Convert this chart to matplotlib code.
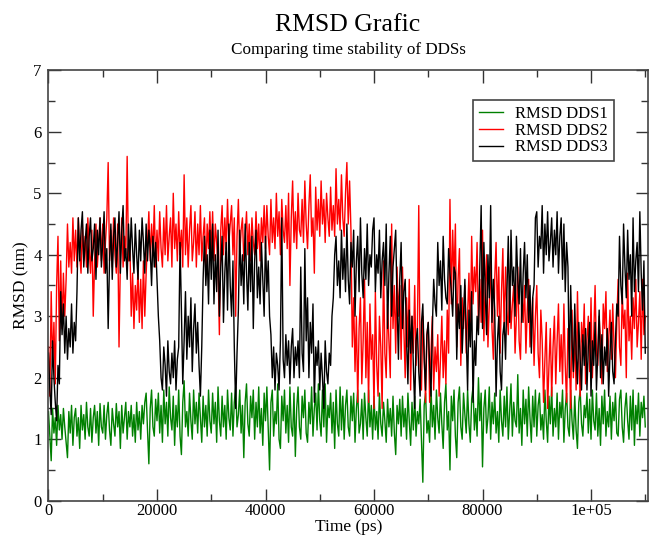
import numpy as np
import matplotlib.pyplot as plt

# time axis: one read-off value every 250 ps
time_ps = np.arange(0, 110001, 250)

# RMSD values (nm), 20 values per 5000 ps
dds1 = [
    1.45, 1.05, 0.65, 1.5, 1.1, 1.35, 0.9, 1.55, 1.15, 1.4, 1.0, 1.5, 1.2, 0.95, 0.7, 1.45, 1.1, 1.55, 0.9, 1.35,
    1.5, 1.05, 1.35, 0.85, 1.55, 1.15, 1.4, 1.0, 1.6, 1.2, 1.05, 1.5, 0.95, 1.35, 1.55, 1.1, 1.45, 0.9, 1.58, 1.2,
    1.1, 1.55, 1.0, 1.4, 1.6, 1.15, 0.9, 1.5, 1.25, 1.05, 1.58, 1.2, 1.45, 0.85, 1.55, 1.1, 1.35, 1.6, 1.0, 1.45,
    1.2, 1.55, 1.05, 1.4, 0.95, 1.6, 1.15, 1.45, 1.0, 1.55, 1.25, 1.6, 1.75, 1.15, 0.6, 1.5, 1.8, 1.2, 1.05, 1.65,
    1.3, 1.75, 1.1, 1.55, 0.95, 1.8, 1.25, 1.6, 1.05, 1.85, 1.35, 1.15, 1.7, 0.9, 1.55, 1.2, 1.8, 1.05, 0.75, 1.6,
    1.95, 1.2, 1.45, 1.05, 1.75, 1.3, 1.0, 1.8, 1.25, 1.6, 1.1, 1.75, 1.35, 0.95, 1.7, 1.2, 1.55, 1.05, 1.8, 1.3,
    1.1, 1.75, 1.25, 1.6, 0.95, 1.85, 1.3, 1.05, 1.7, 1.2, 1.55, 1.0, 1.8, 1.35, 1.15, 1.75, 1.05, 1.6, 1.85, 1.2,
    1.4, 1.8, 1.1, 1.55, 0.7, 1.6, 1.9, 1.25, 1.05, 1.7, 1.35, 1.8, 1.0, 1.6, 1.2, 1.85, 1.1, 1.5, 0.9, 1.75,
    1.3, 1.85, 1.15, 0.5, 1.6, 1.8, 1.05, 1.45, 1.25, 1.9, 1.0, 0.85, 1.7, 1.3, 1.8, 1.1, 1.55, 0.95, 1.85, 1.2,
    1.05, 1.75, 0.72, 1.5, 1.85, 1.2, 1.0, 1.7, 1.35, 1.8, 1.1, 0.95, 1.6, 1.25, 1.85, 1.05, 1.5, 1.75, 1.15, 1.9,
    1.3, 1.05, 1.8, 1.2, 1.9, 0.95, 1.55, 1.35, 1.75, 1.1, 1.6, 0.85, 1.8, 1.25, 1.05, 1.85, 1.15, 1.7, 1.0, 1.55,
    1.8, 1.2, 1.05, 1.7, 1.3, 1.75, 0.95, 1.5, 1.8, 1.1, 1.25, 1.65, 1.0, 1.75, 1.35, 1.05, 1.8, 1.2, 1.55, 1.0,
    1.7, 1.15, 1.45, 1.0, 1.75, 1.25, 1.05, 1.6, 1.3, 0.95, 1.65, 1.2, 1.5, 1.05, 1.7, 1.1, 0.75, 1.55, 1.25, 1.65,
    1.05, 1.7, 1.2, 1.5, 1.0, 1.75, 1.3, 0.9, 1.6, 1.15, 1.7, 1.05, 1.45, 1.25, 1.65, 1.0, 0.3, 1.55, 1.75, 1.1,
    1.3, 0.95, 1.85, 1.2, 1.55, 1.0, 1.8, 1.35, 1.1, 1.75, 1.25, 0.85, 1.6, 1.9, 1.15, 1.45, 0.5, 1.7, 1.3, 1.8,
    1.05, 0.7, 1.6, 1.85, 1.2, 1.0, 1.75, 1.4, 1.1, 1.8, 1.25, 0.95, 1.65, 1.85, 1.15, 1.5, 1.05, 2.0, 1.3, 1.75,
    0.55, 1.5, 1.8, 1.1, 1.35, 1.85, 1.0, 1.6, 1.25, 1.75, 1.1, 1.45, 0.95, 1.8, 1.3, 1.05, 1.7, 1.2, 1.85, 1.0,
    1.45, 1.9, 1.05, 1.6, 1.3, 1.2, 2.05, 1.1, 1.5, 0.9, 1.8, 1.25, 1.65, 1.05, 1.85, 1.35, 0.95, 1.7, 1.2, 1.8,
    1.05, 1.55, 1.75, 1.15, 1.4, 1.0, 1.8, 1.3, 0.95, 1.7, 1.25, 1.85, 1.05, 1.5, 1.2, 1.75, 1.0, 1.6, 1.35, 1.8,
    0.95, 1.5, 1.75, 1.2, 1.05, 1.8, 1.3, 1.0, 1.7, 1.15, 0.85, 1.6, 1.8, 1.25, 1.05, 1.55, 1.35, 1.75, 1.1, 1.65,
    1.0, 1.8, 1.3, 1.15, 1.75, 1.05, 1.5, 0.9, 1.7, 1.25, 1.8, 1.05, 1.45, 1.2, 1.7, 1.0, 1.6, 1.3, 1.75, 1.1,
    1.05, 1.65, 1.8, 1.2, 0.95, 1.5, 1.75, 1.3, 1.0, 1.7, 1.15, 1.8, 0.9, 1.55, 1.25, 1.75, 1.05, 1.6, 1.35, 1.7,
    1.2,
]

dds2 = [
    2.5, 1.7, 3.4, 2.2, 2.9, 1.9, 3.5, 4.3, 2.6, 3.9, 2.8, 3.7, 3.0, 3.6, 4.5, 3.8, 4.2, 3.7, 4.6, 3.9,
    4.4, 3.8, 4.6, 4.0, 3.7, 4.5, 3.9, 4.3, 3.8, 4.6, 4.1, 3.7, 4.4, 3.0, 3.9, 4.5, 3.8, 4.2, 4.6, 3.9,
    4.5, 3.7, 4.2, 4.6, 5.5, 3.9, 4.4, 3.8, 4.6, 4.0, 3.7, 4.5, 2.5, 3.9, 4.6, 3.8, 4.3, 4.0, 5.6, 3.9,
    4.2, 3.0, 3.7, 2.8, 3.5, 3.1, 3.8, 2.9, 3.6, 2.8, 3.9, 3.0, 3.7, 4.2, 4.7, 3.9, 4.5, 4.0, 4.8, 3.8,
    4.4, 3.9, 4.7, 4.1, 3.8, 4.6, 4.0, 4.8, 3.9, 4.3, 4.6, 3.8, 5.0, 4.1, 4.5, 3.9, 4.7, 4.0, 4.4, 3.8,
    5.3, 4.0, 4.6, 3.8, 4.4, 4.8, 3.9, 4.2, 4.7, 3.8, 4.5, 4.0, 4.8, 3.9, 4.3, 4.6, 3.7, 4.5, 4.1, 4.7,
    4.0, 4.7, 3.9, 4.5, 4.2, 3.8, 2.7, 4.4, 4.8, 4.0, 4.6, 4.1, 4.9, 4.2, 4.5, 4.8, 4.0, 4.6, 3.0, 4.3,
    4.9, 4.0, 4.4, 4.6, 3.9, 4.3, 4.7, 4.0, 4.5, 3.9, 4.6, 4.2, 4.0, 4.7, 4.1, 4.5, 3.9, 4.6, 4.2, 4.8,
    4.1, 4.8, 4.3, 4.0, 4.9, 4.2, 4.6, 4.1, 5.0, 4.3, 4.7, 4.0, 4.9, 4.4, 4.2, 4.8, 4.1, 5.0, 3.5, 4.6,
    5.2, 4.2, 4.7, 4.1, 5.0, 4.4, 4.3, 4.9, 4.2, 5.2, 4.5, 4.1, 4.8, 5.3, 4.3, 4.6, 3.7, 5.1, 4.4, 4.9,
    4.3, 5.2, 4.5, 4.9, 4.2, 5.0, 4.6, 4.3, 5.1, 4.4, 4.8, 4.3, 5.4, 4.5, 4.9, 4.4, 5.3, 4.6, 4.3, 5.0,
    5.5, 4.5, 5.2, 4.4, 2.5, 3.3, 2.1, 3.0, 1.6, 2.8, 3.3, 1.9, 2.6, 3.6, 2.0, 2.9, 1.6, 3.2, 2.3, 2.7,
    1.5, 3.4, 2.2, 1.7, 3.0, 2.5, 1.5, 3.9, 2.4, 2.0, 3.2, 2.6, 2.0, 4.5, 2.8, 3.5, 2.4, 3.8, 3.0, 3.5,
    2.3, 3.8, 2.8, 2.0, 3.3, 2.5, 3.6, 1.8, 3.0, 2.4, 3.5, 2.2, 2.8, 4.8, 2.2, 1.8, 3.0, 2.4, 1.6, 2.7,
    2.9, 1.6, 2.4, 3.0, 1.8, 2.5, 2.1, 2.7, 1.7, 2.3, 3.0, 2.0, 2.6, 1.9, 3.1, 2.4, 4.9, 3.2, 4.4, 3.6,
    4.5, 2.5, 3.6, 4.1, 2.2, 3.3, 2.8, 3.5, 2.4, 3.0, 3.7, 2.6, 4.3, 3.2, 3.8, 3.4, 4.2, 2.8, 3.6, 2.9,
    4.4, 2.6, 3.5, 4.0, 2.5, 3.2, 3.9, 2.8, 2.3, 3.6, 4.2, 3.0, 3.8, 2.4, 3.4, 4.1, 2.7, 3.8, 3.1, 2.7,
    3.6, 2.8, 3.2, 3.5, 2.4, 3.0, 3.8, 2.6, 2.3, 3.4, 2.9, 3.5, 2.4, 3.1, 3.6, 2.5, 2.8, 3.3, 2.2, 3.0,
    3.5, 2.4, 2.0, 3.1, 2.6, 1.6, 2.3, 2.9, 1.5, 2.2, 2.8, 1.7, 2.5, 3.0, 1.9, 2.6, 3.2, 2.1, 2.7, 1.9,
    3.2, 2.2, 1.6, 2.8, 2.4, 1.5, 3.1, 2.0, 2.7, 1.8, 3.4, 2.3, 1.7, 2.9, 2.5, 3.2, 1.9, 2.6, 3.0, 2.1,
    3.3, 2.0, 2.7, 3.5, 2.4, 2.2, 3.0, 2.6, 1.9, 3.2, 2.8, 3.4, 2.1, 2.6, 3.1, 2.3, 3.2, 2.5, 2.0, 2.9,
    3.6, 2.5, 2.2, 3.4, 2.8, 3.1, 2.0, 3.7, 2.6, 3.0, 2.3, 3.3, 2.8, 3.6, 2.5, 2.9, 3.4, 2.3, 3.6, 2.7,
    3.0,
]

dds3 = [
    2.4, 1.8, 1.4, 2.6, 2.0, 1.6, 1.3, 2.2, 1.9, 3.4, 2.7, 3.2, 2.4, 3.0, 2.3, 2.8, 2.5, 3.2, 2.4, 2.9,
    2.6, 3.4, 4.6, 3.9, 4.4, 4.7, 3.8, 4.2, 4.5, 3.7, 4.3, 4.6, 3.9, 4.1, 4.5, 3.6, 4.4, 4.0, 4.6, 3.8,
    4.2, 4.7, 3.7, 4.1, 2.8, 3.9, 4.5, 3.6, 4.3, 4.6, 3.8, 4.2, 4.7, 3.7, 4.4, 4.8, 3.9, 4.1, 3.6, 4.5,
    3.9, 4.6, 4.1, 3.7, 4.5, 4.0, 3.6, 4.4, 3.9, 4.6, 4.2, 3.7, 4.5, 3.9, 4.4, 4.1, 3.5, 4.3, 3.8, 4.2,
    3.6, 3.0, 2.6, 2.0, 1.8, 2.5, 2.2, 1.7, 2.6, 2.1, 1.9, 2.4, 2.0, 2.6, 1.8, 2.3, 2.5, 4.2, 3.1, 1.9,
    2.6, 3.4, 2.3, 3.0, 2.5, 3.3, 2.1, 2.8, 3.2, 2.4, 2.9, 2.2, 1.7, 2.5, 3.6, 4.3, 3.5, 4.0, 3.2, 4.4,
    3.6, 4.5, 3.2, 4.0, 3.4, 4.4, 3.0, 3.8, 4.3, 2.9, 3.7, 4.2, 3.1, 4.5, 3.5, 3.0, 3.9, 2.5, 1.5, 2.4,
    3.1, 4.4, 3.5, 4.0, 3.2, 4.5, 3.7, 3.1, 4.2, 3.4, 4.3, 2.8, 3.9, 4.4, 3.3, 3.8, 3.2, 4.2, 3.6, 3.0,
    4.3, 3.4, 3.9, 3.0, 2.7, 2.0, 2.5, 1.8, 2.4, 2.2, 1.8, 2.6, 4.6, 2.3, 2.0, 2.7, 2.2, 2.6, 1.9, 2.5,
    2.8, 2.0, 2.5, 2.2, 2.6, 2.0, 3.8, 2.4, 2.1, 4.1, 2.6, 3.3, 2.0, 2.9, 2.4, 3.2, 1.6, 2.5, 2.2, 2.6,
    1.8, 2.4, 2.0, 1.5, 2.6, 2.1, 1.9, 2.4, 2.2, 3.0, 3.3, 4.0, 4.3, 3.5, 3.9, 3.3, 4.4, 3.6, 4.1, 3.4,
    4.5, 3.6, 3.2, 4.2, 3.8, 4.4, 3.0, 3.9, 4.3, 3.4, 4.6, 3.7, 3.3, 4.1, 3.6, 4.5, 3.5, 4.0, 3.8, 4.4,
    4.6, 3.4, 4.0, 3.7, 4.4, 3.3, 3.9, 4.2, 3.5, 4.5, 2.8, 3.7, 4.3, 3.0, 3.8, 4.1, 4.4, 3.2, 2.3, 3.6,
    4.2, 2.8, 3.4, 3.6, 2.6, 1.9, 3.1, 2.4, 3.0, 2.2, 1.5, 2.6, 2.8, 2.1, 1.7, 2.9, 3.2, 2.3, 1.8, 2.7,
    2.9, 2.2, 1.7, 2.8, 3.6, 3.2, 3.0, 4.2, 3.5, 3.9, 3.1, 4.3, 3.6, 3.3, 3.2, 4.1, 3.7, 3.4, 3.0, 3.8,
    3.7, 2.3, 3.2, 2.8, 3.5, 2.4, 3.0, 3.6, 2.7, 1.8, 3.1, 2.5, 3.4, 1.6, 2.6, 2.2, 3.0, 2.7, 3.8, 4.8,
    2.8, 4.2, 3.4, 2.7, 4.0, 3.3, 4.8, 2.9, 3.6, 3.1, 1.7, 2.6, 3.0, 2.1, 1.8, 2.7, 2.9, 2.3, 3.4, 4.3,
    2.9, 4.4, 3.5, 3.8, 3.0, 4.3, 3.6, 3.2, 4.1, 2.9, 3.7, 4.2, 3.3, 4.0, 2.9, 3.5, 2.4, 3.3, 3.5, 4.6,
    4.7, 3.8, 4.3, 4.1, 4.8, 3.7, 4.5, 4.0, 4.7, 3.9, 4.2, 4.6, 3.8, 4.4, 4.0, 4.7, 3.7, 4.3, 4.6, 3.6,
    4.5, 3.4, 4.2, 3.8, 2.0, 3.5, 2.6, 2.1, 3.2, 2.4, 1.9, 2.9, 2.3, 1.8, 2.7, 2.2, 2.8, 1.8, 2.5, 2.9,
    1.7, 2.6, 2.2, 2.9, 1.8, 2.4, 3.1, 2.0, 2.7, 1.9, 2.5, 2.2, 2.8, 1.7, 2.4, 2.9, 2.1, 1.9, 2.6, 3.2,
    3.0, 4.3, 3.5, 3.2, 4.5, 3.8, 3.3, 4.4, 3.6, 4.0, 3.0, 4.6, 3.4, 3.9, 4.2, 3.4, 4.7, 3.7, 3.1, 3.9,
    2.4,
]

plt.rcParams['font.family'] = ['Liberation Serif', 'DejaVu Serif']

fig = plt.figure(figsize=(6.5, 5.4), dpi=100)
ax = fig.add_axes([0.0746, 0.0728, 0.9223, 0.797])

ax.plot(time_ps, dds1, color='#008000', linewidth=1.0, label='RMSD DDS1')
ax.plot(time_ps, dds2, color='#ff0000', linewidth=1.0, label='RMSD DDS2')
ax.plot(time_ps, dds3, color='black', linewidth=1.0, label='RMSD DDS3')

ax.set_xlim(0, 110500)
ax.set_ylim(0, 7)
ax.set_xticks([0, 20000, 40000, 60000, 80000, 100000])
ax.set_xticklabels(['0', '20000', '40000', '60000', '80000', '1e+05'])
ax.set_xticks(np.arange(10000, 110001, 20000), minor=True)
ax.set_yticks(range(0, 8))
ax.set_yticks(np.arange(0.5, 7, 1.0), minor=True)
ax.tick_params(which='both', direction='in', top=True, right=True, labelsize=12,
               width=1, color='#333333')
ax.tick_params(which='major', length=9)
ax.tick_params(which='minor', length=5)
ax.tick_params(axis='x', pad=2)
ax.tick_params(axis='y', pad=5)
for s in ax.spines.values():
    s.set_linewidth(1.2)
    s.set_color('#444444')

ax.set_xlabel('Time (ps)', fontsize=12.5, labelpad=0)
ax.set_ylabel('RMSD (nm)', fontsize=12.5, labelpad=3)

fig.text(0.5355, 0.954, 'RMSD Grafic', ha='center', va='center', fontsize=18.5)
fig.text(0.5355, 0.907, 'Comparing time stability of DDSs', ha='center', va='center', fontsize=12.3)

leg = ax.legend(loc='upper left', bbox_to_anchor=(473 / 650, 1 - 100 / 540),
                bbox_transform=fig.transFigure, fontsize=12, frameon=True,
                fancybox=False, edgecolor='#444444', framealpha=1,
                handlelength=1.45, handletextpad=0.75, labelspacing=0.05,
                borderpad=0.35, borderaxespad=0)
leg.get_frame().set_linewidth(1.2)
for line in leg.get_lines():
    line.set_linewidth(1.0)

plt.savefig('out.png', dpi=100)
